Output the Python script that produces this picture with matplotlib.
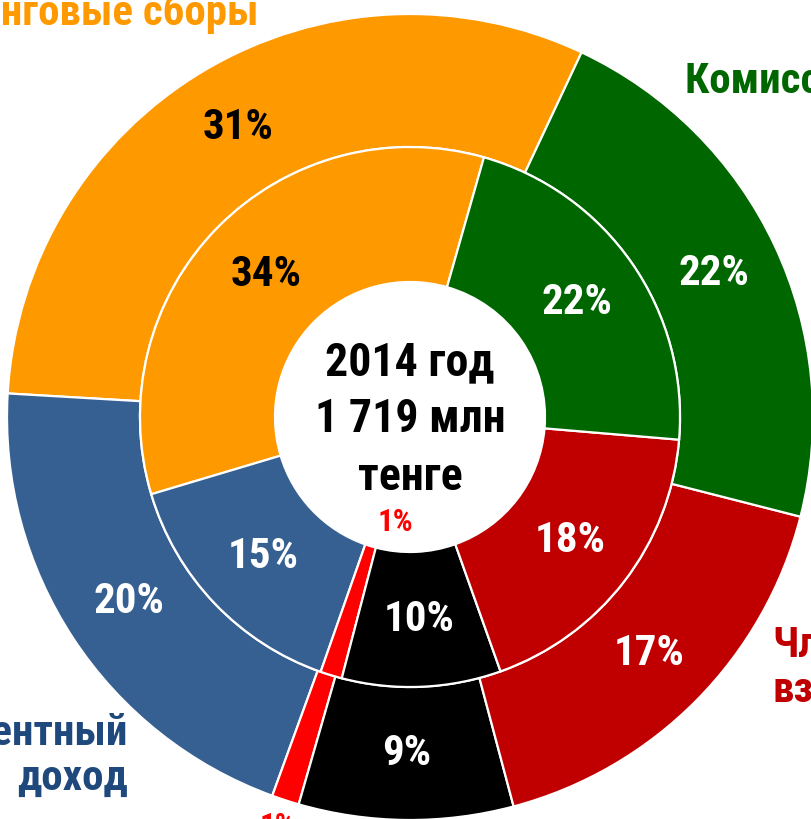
import numpy as np
import matplotlib
matplotlib.use("Agg")
import matplotlib.pyplot as plt
from matplotlib import font_manager

# доли выручки 2014, % (внешнее и внутреннее кольцо), прочтены по углам секторов
cats = ["Листинговые сборы", "Процентный доход", "Прочие", "Прочее", "Членские взносы", "Комиссионные сборы"]
outer_vals = [31.1, 20.4, 1.1, 8.6, 16.9, 22.0]
inner_vals = [34.0, 15.0, 1.3, 9.5, 18.2, 21.9]
colors = ["#FF9900", "#376092", "#FF0000", "#000000", "#C00000", "#006600"]
pct_colors = ["black", "white", "#FF0000", "white", "white", "white"]
center_lines = ["2014 год", "1 719 млн", "тенге"]

# узкий шрифт, если найдётся
names = {f.name for f in font_manager.fontManager.ttflist}
fam, stretch, narrow = "Liberation Sans", "normal", False
for n in ["Liberation Sans Narrow", "Arial Narrow", "Roboto Condensed",
          "Noto Sans Condensed", "Open Sans Condensed", "DejaVu Sans Condensed"]:
    if n in names:
        fam, narrow = n, True
        break
if not narrow:
    for f in font_manager.fontManager.ttflist:
        if "condensed" in str(f.stretch).lower() and f.name in ("DejaVu Sans", "Noto Sans", "Open Sans", "Roboto"):
            fam, stretch, narrow = f.name, "condensed", True
            break

fs = 31 if narrow else 26      # проценты и подписи
fs_c = 33 if narrow else 28    # центр

W, H = 811, 819
cx, cy, R = 410, 417, 403   # центр и внешний радиус, px

fig = plt.figure(figsize=(W / 100, H / 100), dpi=100)
ax = fig.add_axes([0, 0, 1, 1])

wp = dict(edgecolor="white", linewidth=1.6)
w_out, _ = ax.pie(outer_vals, radius=1.0, colors=colors, startangle=64.8,
                  wedgeprops=dict(width=0.33, **wp))
w_in, _ = ax.pie(inner_vals, radius=0.67, colors=colors, startangle=74.1,
                 wedgeprops=dict(width=0.335, **wp))

ax.set_aspect("auto")
ax.set_xlim(-cx / R, (W - cx) / R)
ax.set_ylim(-(H - cy) / R, cy / R)
ax.axis("off")

tk = dict(fontweight="bold", family=fam, fontstretch=stretch)


def put_pct(wedges, vals, r, r_small, shift_small):
    for w, v, c in zip(wedges, vals, pct_colors):
        small = round(v) == 1
        a = np.deg2rad((w.theta1 + w.theta2) / 2 + (shift_small if small else 0))
        rr = r_small if small else r
        ax.text(rr * np.cos(a), rr * np.sin(a), f"{round(v)}%", ha="center", va="center",
                color=c, fontsize=fs * 0.72 if small else fs, **tk)


put_pct(w_out, outer_vals, 0.835, 1.067, 0)
put_pct(w_in, inner_vals, 0.502, 0.262, 9)

# центр
for i, s in enumerate(center_lines):
    ax.text(0, (cy - (375 + 57.5 * i)) / R, s, ha="center", va="baseline",
            fontsize=fs_c, color="black", **tk)


def px(x, y):
    return (x - cx) / R, (cy - y) / R


# подписи категорий: строки, x, базовые линии (px), выравнивание, цвет
lab = [
    (["Листинговые сборы"], 258, [25], "right", "#FF9900"),
    (["Комиссионные сборы"], 685, [93], "left", "#006600"),
    (["Членские", "взносы"], 772, [657, 702], "left", "#C00000"),
    (["Процентный", "доход"], 128, [745, 790], "right", "#1F497D"),
]
for lines, x, ys, ha, c in lab:
    for s, y in zip(lines, ys):
        ax.text(*px(x, y), s, ha=ha, va="baseline", color=c, fontsize=fs, **tk)

fig.savefig("out.png", dpi=100)
